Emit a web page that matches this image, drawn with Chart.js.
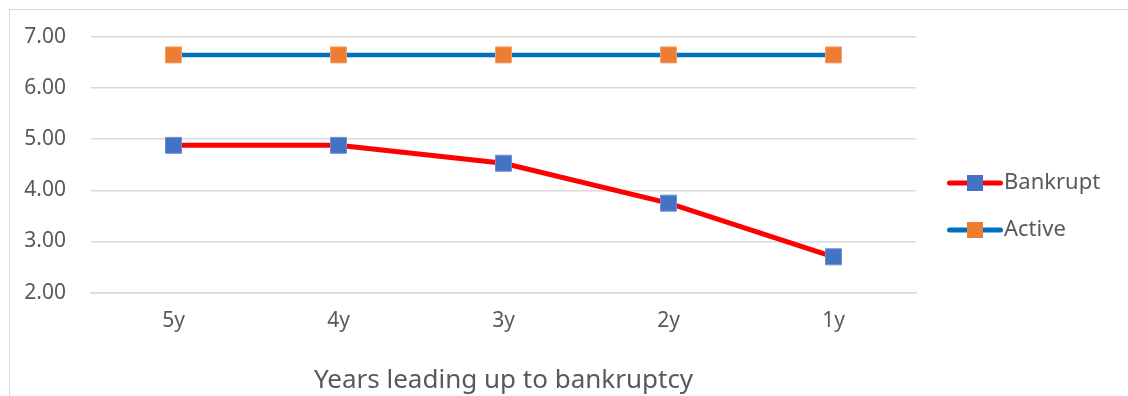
<!DOCTYPE html>
<html>
<head>
<meta charset="utf-8">
<script src="https://cdn.jsdelivr.net/npm/chart.js@4.4.0/dist/chart.umd.min.js"></script>
<style>
    html, body { margin: 0; padding: 0; background: #fff; overflow: hidden; }
    #frame {
        position: absolute; left: 9px; top: 9px;
        width: 1140px; height: 400px;
        border: 1px solid #d9d9d9;
    }
    #wrap { width: 1118px; height: 386px; }
</style>
</head>
<body>
<div id="frame"><div id="wrap"><canvas id="myLineChart"></canvas></div></div>
<script>
    // dados
    const years = ["5y", "4y", "3y", "2y", "1y"];
    const bankrupt = [4.88, 4.88, 4.53, 3.75, 2.70];
    const active = [6.65, 6.65, 6.65, 6.65, 6.65];
    const yTicks = [2, 3, 4, 5, 6, 7];

    const fontFamily = "'Noto Sans', 'Open Sans', sans-serif";
    const textColor = "#595959";

    // ícone da legenda: linha + marcador quadrado
    function legendIcon(lineColor, markColor) {
        let c = document.createElement('canvas');
        c.width = 72;
        c.height = 18;
        let g = c.getContext('2d');
        g.strokeStyle = lineColor;
        g.lineWidth = 5;
        g.lineCap = 'round';
        g.beginPath();
        g.moveTo(18.5, 9);
        g.lineTo(69.5, 9);
        g.stroke();
        g.fillStyle = markColor;
        g.fillRect(36, 1, 16, 16);
        return c;
    }

    // largura fixa da legenda e um pouco mais para cima, como no Excel
    const fixedLegend = {
        id: 'fixedLegend',
        afterInit: function (chart) {
            let legend = chart.legend;
            let origFit = legend.fit.bind(legend);
            legend.fit = function () {
                origFit();
                this.width = 212;
            };
        },
        afterLayout: function (chart) {
            chart.legend.top -= 10;
            chart.legend.bottom -= 10;
        }
    };

    let ctx = document.getElementById("myLineChart").getContext("2d");

    let myLineChart = new Chart(ctx, {
        type: 'line',
        data: {
            labels: years,
            datasets: [
                {
                    label: "Bankrupt",
                    data: bankrupt,
                    borderColor: "#FF0000",
                    borderWidth: 5,
                    pointStyle: 'rect',
                    pointRadius: 11.3,
                    pointHoverRadius: 11.3,
                    pointBackgroundColor: "#4472C4",
                    pointBorderColor: "#6c8fd0",
                    pointBorderWidth: 1,
                    tension: 0,
                    fill: false
                },
                {
                    label: "Active",
                    data: active,
                    borderColor: "#0070C0",
                    borderWidth: 4.5,
                    pointStyle: 'rect',
                    pointRadius: 11.3,
                    pointHoverRadius: 11.3,
                    pointBackgroundColor: "#ED7D31",
                    pointBorderColor: "#f3a06a",
                    pointBorderWidth: 1,
                    tension: 0,
                    fill: false
                }
            ]
        },
        plugins: [fixedLegend],
        options: {
            responsive: true,
            maintainAspectRatio: false,
            animation: false,
            layout: {
                padding: {left: 0, right: 0, top: 27, bottom: 0}
            },
            plugins: {
                tooltip: {enabled: false},
                legend: {
                    position: 'right',
                    labels: {
                        usePointStyle: true,
                        pointStyleWidth: 52,
                        padding: 25,
                        color: textColor,
                        font: {family: fontFamily, size: 22},
                        generateLabels: function (chart) {
                            let icons = [
                                legendIcon("#FF0000", "#4472C4"),
                                legendIcon("#0070C0", "#ED7D31")
                            ];
                            return chart.data.datasets.map((ds, i) => ({
                                text: ds.label,
                                pointStyle: icons[i],
                                fontColor: textColor,
                                datasetIndex: i,
                                lineWidth: 0,
                                hidden: false
                            }));
                        }
                    }
                }
            },
            scales: {
                x: {
                    offset: true,
                    grid: {display: false, drawTicks: false},
                    border: {color: "#d9d9d9", width: 1.5},
                    ticks: {
                        color: textColor,
                        padding: 16,
                        font: {family: fontFamily, size: 21}
                    },
                    title: {
                        display: true,
                        text: "Years leading up to bankruptcy",
                        color: textColor,
                        padding: {top: 15, bottom: 0},
                        font: {family: fontFamily, size: 26}
                    }
                },
                y: {
                    min: 2,
                    max: 7,
                    afterBuildTicks: function (axis) {
                        axis.ticks = yTicks.map(v => ({value: v}));
                    },
                    afterFit: function (axis) {
                        axis.width = 81;
                        axis.paddingTop = 0;
                        axis.paddingBottom = 0;
                    },
                    grid: {color: "#d9d9d9", lineWidth: 1.5, drawTicks: false},
                    border: {display: false},
                    ticks: {
                        color: textColor,
                        padding: 25,
                        font: {family: fontFamily, size: 21},
                        callback: v => v.toFixed(2)
                    }
                }
            }
        }
    });
</script>
</body>
</html>
